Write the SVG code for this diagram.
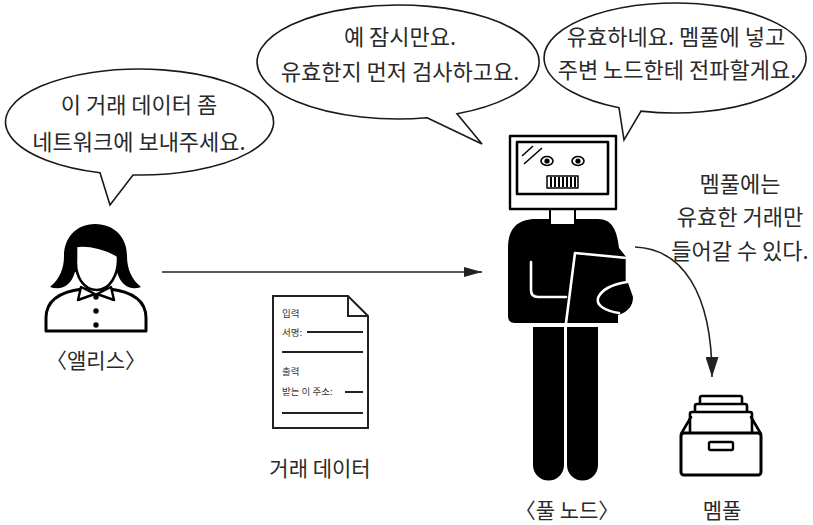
<svg xmlns="http://www.w3.org/2000/svg" width="813" height="525" viewBox="0 0 813 525">
  <style>
    .t { font-family: "Noto Sans CJK KR", "Noto Sans", sans-serif; fill: #2a2a2a; font-size: 22px; text-anchor: middle; }
    .lbl { font-size: 21px; }
    .small { font-family: "Noto Sans CJK KR", "Noto Sans", sans-serif; fill: #333; font-size: 9.5px; }
    .bubble { fill: #fff; stroke: #1a1a1a; stroke-width: 1.6; stroke-linejoin: miter; }
    .ink { fill: #000; }
    .wline { fill: none; stroke: #fff; stroke-width: 2.6; stroke-linecap: round; stroke-linejoin: round; }
    .outline { fill: #fff; stroke: #000; stroke-linejoin: round; }
    .conn { fill: none; stroke: #222; stroke-width: 1.6; }
    .docline { stroke: #222; stroke-width: 2; }
  </style>
  <defs>
    <marker id="head" markerUnits="userSpaceOnUse" markerWidth="18" markerHeight="10" refX="18" refY="5" orient="auto">
      <path d="M0,0 L18,5 L0,10 Z" fill="#222"/>
    </marker>
    <marker id="headL" markerUnits="userSpaceOnUse" markerWidth="20" markerHeight="13" refX="20" refY="6.5" orient="auto">
      <path d="M0,0 L20,6.5 L0,13 Z" fill="#222"/>
    </marker>
  </defs>

  <rect width="813" height="525" fill="#fff"/>

  <!-- speech bubbles -->
  <g id="bubble-alice">
    <path class="bubble" d="M100 172.7 L110 205 L133 175 A134 53 0 1 0 100 172.7 Z"/>
    <text class="t" x="139" y="113">이 거래 데이터 좀</text>
    <text class="t" x="139" y="150">네트워크에 보내주세요.</text>
  </g>
  <g id="bubble-node-1">
    <path class="bubble" d="M427 117.8 L482 144 L457 113.8 A141 57 0 1 0 427 117.8 Z"/>
    <text class="t" x="400" y="45">예 잠시만요.</text>
    <text class="t" x="400" y="80">유효한지 먼저 검사하고요.</text>
  </g>
  <g id="bubble-node-2">
    <path class="bubble" d="M619 107.7 L624 140 L641 111.1 A131 55 0 1 0 619 107.7 Z"/>
    <text class="t" x="676" y="45">유효하네요. 멤풀에 넣고</text>
    <text class="t" x="677" y="78">주변 노드한테 전파할게요.</text>
  </g>

  <!-- Alice -->
  <g id="alice">
    <path class="ink" d="M95 224 C115 224 127 238 127 256 C127 268 131 279 141 287 C131 291 121 286 117 272 L75 272 C71 286 61 291 50 287 C60 279 64 268 64 256 C64 238 76 224 95 224 Z"/>
    <path class="outline" stroke-width="3" d="M82 289 C58 292 46 302 46 318 L46 331 L146 331 L146 318 C146 302 134 292 110 289 Z"/>
    <path class="outline" stroke-width="2.6" d="M76 246 C90 244 108 249 118 256 C119 276 109 290 97 290 C84 290 75 277 76 260 Z"/>
    <path class="outline" stroke-width="2.4" d="M81 287 L78 300 L95 294 Z"/>
    <path class="outline" stroke-width="2.4" d="M111 287 L114 300 L97 294 Z"/>
    <circle class="ink" cx="96" cy="297" r="2.7"/>
    <circle class="ink" cx="96" cy="311" r="2.7"/>
    <circle class="ink" cx="96" cy="325" r="2.7"/>
    <text class="t lbl" x="96" y="368">〈앨리스〉</text>
  </g>

  <!-- transaction document -->
  <g id="tx-data">
    <path d="M273 296 L348 296 L368 316 L368 428 L273 428 Z" fill="#fff" stroke="#222" stroke-width="2" stroke-linejoin="miter"/>
    <path d="M348 296 L348 316 L368 316" fill="none" stroke="#222" stroke-width="2"/>
    <text class="small" x="282" y="317">입력</text>
    <text class="small" x="282" y="336">서명:</text>
    <line class="docline" x1="307" y1="332" x2="363" y2="332"/>
    <line class="docline" x1="282" y1="352" x2="363" y2="352"/>
    <text class="small" x="282" y="375">출력</text>
    <text class="small" x="282" y="395">받는 이 주소:</text>
    <line class="docline" x1="345" y1="392" x2="363" y2="392"/>
    <line class="docline" x1="282" y1="413" x2="363" y2="413"/>
    <text class="t lbl" x="320" y="476">거래 데이터</text>
  </g>

  <!-- full node -->
  <g id="full-node">
    <!-- legs -->
    <path class="ink" d="M533 327 H564 V465 A15.5 15.5 0 0 1 533 465 Z"/>
    <path class="ink" d="M567 327 H598 V465 A15.5 15.5 0 0 1 567 465 Z"/>
    <!-- torso with arm -->
    <path class="ink" d="M508 248 C508 228 518 219 536 219 L598 219 C612 219 617 230 619 248 L627 258 L627 280 L633 297 C633 306 628 312 618 315 L618 323 L515 323 C510 323 508 320 508 316 Z"/>
    <!-- tablet held against the chest -->
    <path class="ink" d="M575 253 L627 258 L627 283 L600 300 L566 323 Z"/>
    <path class="wline" d="M566 323 L575 253 L627 258 L627 282"/>
    <path class="wline" d="M531 262 V290 Q531 297 538 297 H566"/>
    <path class="wline" d="M627 282 C612 284 601 290 598 298 C596 306 606 311 619 313"/>
    <!-- neck -->
    <rect class="outline" stroke-width="2" x="550" y="209" width="25" height="16"/>
    <!-- monitor head -->
    <rect class="outline" stroke-width="2.4" x="510" y="136" width="106" height="73"/>
    <rect class="outline" stroke-width="2.6" x="517" y="142" width="91" height="52"/>
    <line x1="522" y1="156" x2="533" y2="146" stroke="#000" stroke-width="1.5"/>
    <line x1="524" y1="164" x2="542" y2="148" stroke="#000" stroke-width="1.5"/>
    <ellipse class="outline" stroke-width="1.6" cx="547" cy="161" rx="6" ry="4.5"/>
    <circle class="ink" cx="547" cy="161" r="2.6"/>
    <ellipse class="outline" stroke-width="1.6" cx="578" cy="161" rx="6" ry="4.5"/>
    <circle class="ink" cx="578" cy="161" r="2.6"/>
    <rect class="outline" stroke-width="1.5" x="547" y="176" width="31" height="12"/>
    <path d="M551 177 V187 M555 177 V187 M559 177 V187 M563 177 V187 M567 177 V187 M571 177 V187 M575 177 V187" stroke="#000" stroke-width="2"/>
    <text class="t lbl" x="567" y="518">〈풀 노드〉</text>
  </g>

  <!-- mempool -->
  <g id="mempool">
    <rect class="outline" stroke-width="2.6" x="700" y="396" width="42" height="9" rx="2"/>
    <rect class="outline" stroke-width="2.6" x="695" y="404" width="52" height="9" rx="2"/>
    <rect class="outline" stroke-width="2.6" x="690" y="412" width="62" height="22" rx="2"/>
    <path d="M681 434 L691 417 M761 434 L751 417" stroke="#000" stroke-width="2.6" stroke-linecap="round"/>
    <rect class="outline" stroke-width="3" x="681" y="433" width="80" height="42" rx="3"/>
    <rect class="outline" stroke-width="2.4" x="709" y="442" width="24" height="8" rx="1.5"/>
    <text class="t lbl" x="722" y="518">멤풀</text>
  </g>

  <!-- mempool note -->
  <g id="mempool-note">
    <text class="t" x="740" y="192">멤풀에는</text>
    <text class="t" x="740" y="225">유효한 거래만</text>
    <text class="t" x="740" y="259">들어갈 수 있다.</text>
  </g>

  <!-- connectors -->
  <g id="connectors">
    <line class="conn" x1="162" y1="272" x2="482" y2="272" marker-end="url(#head)"/>
    <path class="conn" d="M635 247 C682 249 712 292 712 377" marker-end="url(#headL)"/>
  </g>
</svg>
